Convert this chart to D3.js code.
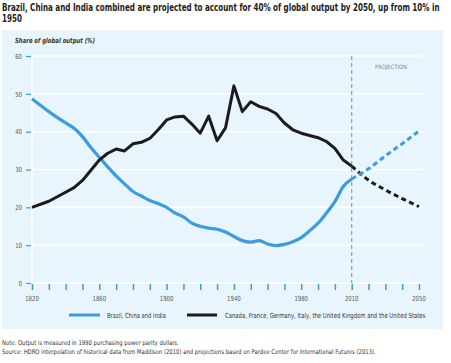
<!DOCTYPE html>
<html>
<head>
<meta charset="utf-8">
<script src="https://cdn.jsdelivr.net/npm/d3@7"></script>
<style>
  body { margin: 0; background: #fff; }
  text { font-family: "DejaVu Sans Condensed", "Liberation Sans Narrow", sans-serif; }
</style>
</head>
<body>
<script>
const width = 451;
const height = 363;

const years = [1820, 1830, 1840, 1845, 1850, 1855, 1860, 1865, 1870, 1875, 1880, 1885, 1890, 1895,
  1900, 1905, 1910, 1915, 1920, 1925, 1930, 1935, 1940, 1945, 1950, 1955, 1960, 1965, 1970, 1975,
  1980, 1985, 1990, 1995, 2000, 2005, 2010];
const bci = [48.7, 45.3, 42.3, 40.9, 38.7, 35.8, 33.2, 30.7, 28.3, 26.2, 24.2, 23.0, 21.8, 21.0,
  20.0, 18.5, 17.5, 15.8, 15.0, 14.5, 14.2, 13.5, 12.3, 11.2, 10.8, 11.2, 10.3, 9.9, 10.2, 10.9,
  12.0, 13.8, 15.8, 18.5, 21.5, 25.5, 27.5];
const g6 = [20.0, 21.6, 24.0, 25.2, 27.1, 29.8, 32.5, 34.3, 35.4, 34.9, 36.8, 37.2, 38.2, 40.5,
  43.1, 43.9, 44.1, 42.0, 39.6, 44.1, 37.6, 41.0, 52.1, 45.3, 47.9, 46.7, 46.0, 44.8, 42.3, 40.5,
  39.6, 39.0, 38.4, 37.4, 35.6, 32.5, 30.9];

const projYears = [2010, 2020, 2030, 2040, 2050];
const bciProj = [27.5, 30.2, 33.6, 36.8, 40.2];
const g6Proj = [30.9, 27.2, 24.6, 22.3, 20.2];

const yTicks = [0, 10, 20, 30, 40, 50, 60];
const xLabels = [1820, 1860, 1900, 1940, 1980, 2010, 2050];

const blue = '#3d9be0';
const dark = '#1b1b1b';

const svg = d3.select('body').append('svg')
  .attr('width', width)
  .attr('height', height);

// squeeze a text horizontally to a given width (the original uses a condensed face)
function addText(px, py, str, size, w, opts = {}) {
  const t = svg.append('text')
    .attr('font-size', size)
    .attr('fill', opts.fill || '#333')
    .attr('font-weight', opts.weight || 'normal')
    .attr('font-style', opts.style || 'normal')
    .text(str);
  const natural = t.node().getComputedTextLength();
  const k = w ? w / natural : 1;
  t.attr('transform', `translate(${px},${py}) scale(${k},1)`);
  return t;
}

// title
addText(2, 10.5, 'Brazil, China and India combined are projected to account for 40% of global output by 2050, up from 10% in',
  9.8, 438, { weight: 'bold', fill: '#222' });
addText(2, 21.5, '1950', 9.8, 20, { weight: 'bold', fill: '#222' });

// panel
svg.append('rect')
  .attr('x', 2).attr('y', 30)
  .attr('width', 441).attr('height', 299)
  .attr('fill', '#e9f5fd');

addText(15, 43, 'Share of global output (%)', 7, 80, { weight: 'bold', style: 'italic', fill: '#333' });

const x = d3.scaleLinear().domain([1820, 2050]).range([32, 419]);
const y = d3.scaleLinear().domain([0, 60]).range([283, 56]);

// gridlines
svg.append('g')
  .selectAll('line')
  .data(yTicks)
  .join('line')
  .attr('x1', 32).attr('x2', 423)
  .attr('y1', (d) => y(d)).attr('y2', (d) => y(d))
  .attr('stroke', '#fff').attr('stroke-width', 1.5);

svg.append('line')
  .attr('x1', 32).attr('x2', 32)
  .attr('y1', y(60)).attr('y2', y(0))
  .attr('stroke', '#fff').attr('stroke-width', 1.5);

// y axis
const yAxis = d3.axisLeft(y).tickValues(yTicks).tickSize(5).tickPadding(3);
const gy = svg.append('g')
  .attr('transform', 'translate(31, 0)')
  .call(yAxis);
gy.select('.domain').remove();
gy.selectAll('.tick line').attr('stroke', blue).attr('stroke-width', 1.2);
gy.selectAll('.tick text')
  .attr('font-size', 7).attr('fill', '#555')
  .attr('font-family', '"DejaVu Sans Condensed", sans-serif')
  .attr('transform', 'scale(0.85,1)')
  .attr('x', -9 / 0.85);

// x axis
const xAxis = d3.axisBottom(x).tickValues(d3.range(1820, 2051, 10)).tickSize(6).tickFormat('');
const gx = svg.append('g')
  .attr('transform', `translate(0, ${y(0) + 1})`)
  .call(xAxis);
gx.select('.domain').remove();
gx.selectAll('.tick line').attr('stroke', blue).attr('stroke-width', 1.5);

svg.append('g')
  .selectAll('text')
  .data(xLabels)
  .join('text')
  .attr('transform', (d) => `translate(${x(d)},301) scale(0.85,1)`)
  .attr('text-anchor', 'middle')
  .attr('font-size', 7).attr('fill', '#555')
  .text((d) => d);

// projection divider
svg.append('line')
  .attr('x1', x(2010)).attr('x2', x(2010))
  .attr('y1', y(60)).attr('y2', y(0))
  .attr('stroke', '#9a9a9a').attr('stroke-width', 1.2)
  .attr('stroke-dasharray', '4,3');

addText(375, 69, 'PROJECTION', 6, 32, { fill: '#888' });

const line = d3.line()
  .x((d) => x(d[0]))
  .y((d) => y(d[1]))
  .curve(d3.curveMonotoneX);

const zip = (a, b) => a.map((v, i) => [v, b[i]]);

svg.append('path')
  .datum(zip(projYears, g6Proj))
  .attr('d', line)
  .attr('fill', 'none').attr('stroke', dark).attr('stroke-width', 3)
  .attr('stroke-dasharray', '5,3.5');

svg.append('path')
  .datum(zip(projYears, bciProj))
  .attr('d', line)
  .attr('fill', 'none').attr('stroke', blue).attr('stroke-width', 3)
  .attr('stroke-dasharray', '5,3.5');

svg.append('path')
  .datum(zip(years, bci))
  .attr('d', line)
  .attr('fill', 'none').attr('stroke', blue).attr('stroke-width', 3.2)
  .attr('stroke-linejoin', 'round');

svg.append('path')
  .datum(zip(years, g6))
  .attr('d', d3.line().x((d) => x(d[0])).y((d) => y(d[1])))
  .attr('fill', 'none').attr('stroke', dark).attr('stroke-width', 3)
  .attr('stroke-linejoin', 'round');

// legend
svg.append('line')
  .attr('x1', 69).attr('x2', 100).attr('y1', 315).attr('y2', 315)
  .attr('stroke', blue).attr('stroke-width', 3);
addText(107, 317.5, 'Brazil, China and India', 7, 59, { fill: '#333' });
svg.append('line')
  .attr('x1', 187).attr('x2', 217).attr('y1', 315).attr('y2', 315)
  .attr('stroke', dark).attr('stroke-width', 3);
addText(225, 317.5, 'Canada, France, Germany, Italy, the United Kingdom and the United States', 7, 201, { fill: '#333' });

// notes
addText(2, 345, 'Note: Output is measured in 1990 purchasing power parity dollars.', 6.5, 177, { fill: '#333' });
addText(2, 354, 'Source: HDRO interpolation of historical data from Maddison (2010) and projections based on Pardee Center for International Futures (2013).',
  6.5, 375, { fill: '#333' });
</script>
</body>
</html>
